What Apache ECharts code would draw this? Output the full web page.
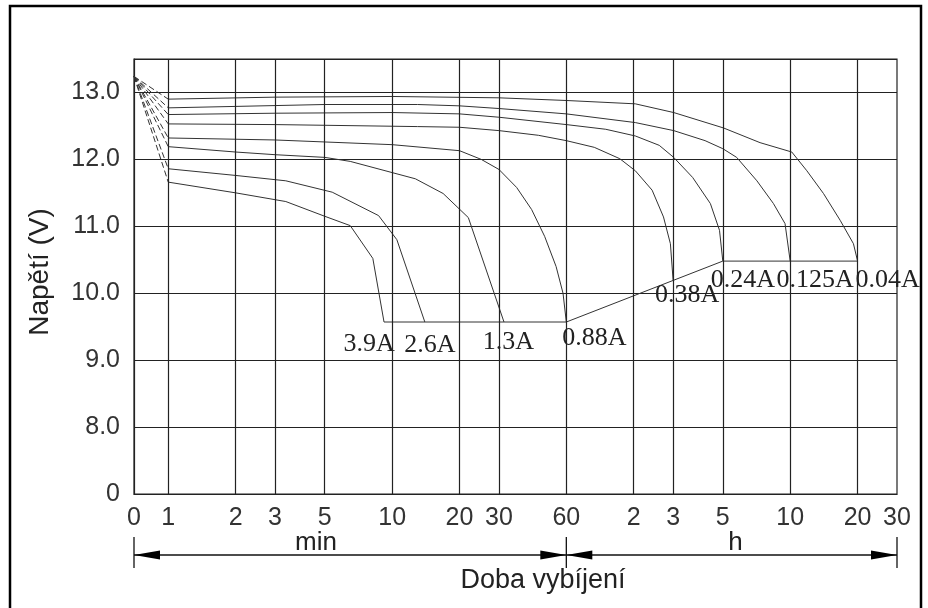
<!DOCTYPE html>
<html><head><meta charset="utf-8">
<script src="https://cdn.jsdelivr.net/npm/echarts@6/dist/echarts.min.js"></script>
<style>html,body{margin:0;padding:0;background:#fff}#c{width:928px;height:608px}</style>
</head><body><div id="c"></div>
<script>
// ---- tick positions / labels ----
const tickTimes = [0.703, 1, 2, 3, 5, 10, 20, 30, 60, 120, 180, 300, 600, 1200, 1800]; // minutes
const tickLabels = ['0', '1', '2', '3', '5', '10', '20', '30', '60', '2', '3', '5', '10', '20', '30'];
const voltTicks = [7, 8, 9, 10, 11, 12, 13];
const voltLabels = ['0', '8.0', '9.0', '10.0', '11.0', '12.0', '13.0'];

// ---- data (time in minutes, voltage in V) ----
const startTime = 0.703;
const startVolt = 13.24;
const currents = ['3.9A', '2.6A', '1.3A', '0.88A', '0.38A', '0.24A', '0.125A', '0.04A'];

const t_3_9A = [1, 2, 3.35, 5, 6.5, 8.2, 9.2];
const v_3_9A = [11.66, 11.50, 11.37, 11.15, 11.01, 10.52, 9.57];
const t_2_6A = [1, 2, 3.35, 5.4, 8.7, 10.5, 14];
const v_2_6A = [11.86, 11.76, 11.68, 11.51, 11.16, 10.80, 9.57];
const t_1_3A = [1, 2, 3, 5, 6.5, 12.7, 16.9, 21.9, 31.6];
const v_1_3A = [12.19, 12.11, 12.07, 12.03, 11.97, 11.71, 11.49, 11.13, 9.57];
const t_0_88A = [1, 3, 10, 20, 25, 30, 36, 42, 48, 54, 58, 60];
const v_0_88A = [12.32, 12.29, 12.22, 12.13, 12.0, 11.85, 11.58, 11.25, 10.85, 10.4, 10.0, 9.57];
const t_0_38A = [1, 3, 13, 20, 30, 45, 60, 80, 104, 122, 145, 163, 175, 180];
const v_0_38A = [12.53, 12.52, 12.49, 12.48, 12.43, 12.36, 12.28, 12.18, 12.01, 11.83, 11.54, 11.14, 10.74, 10.19];
const t_0_24A = [1, 3, 10, 20, 30, 60, 90, 122, 156, 181, 220, 264, 290, 300];
const v_0_24A = [12.67, 12.69, 12.70, 12.68, 12.63, 12.52, 12.45, 12.35, 12.21, 12.03, 11.73, 11.34, 10.94, 10.48];
const t_0_125A = [1, 5, 13, 20, 30, 60, 122, 181, 250, 300, 346, 426, 505, 569, 600];
const v_0_125A = [12.77, 12.82, 12.82, 12.80, 12.76, 12.68, 12.55, 12.43, 12.28, 12.16, 12.03, 11.68, 11.34, 11.04, 10.48];
const t_0_04A = [1, 3, 10, 30, 60, 122, 181, 302, 440, 610, 712, 845, 1003, 1150, 1200];
const v_0_04A = [12.90, 12.93, 12.94, 12.92, 12.88, 12.83, 12.70, 12.47, 12.25, 12.11, 11.83, 11.49, 11.09, 10.74, 10.48];

const cutoffTimes = [9.2, 60, 300, 1200];
const cutoffVolts = [9.57, 9.57, 10.48, 10.48];

const curveTimes = [t_3_9A, t_2_6A, t_1_3A, t_0_88A, t_0_38A, t_0_24A, t_0_125A, t_0_04A];
const curveVolts = [v_3_9A, v_2_6A, v_1_3A, v_0_88A, v_0_38A, v_0_24A, v_0_125A, v_0_04A];

// label offsets (style) relative to each curve end point
const labelOffsets = [[-15, 22], [5, 23], [4.5, 20], [28, 16], [14, 15], [20, 19], [25, 19], [30, 19]];

const chart = echarts.init(document.getElementById('c'), null, {renderer: 'canvas'});

function xLabel(v) {
  let best = 0, bd = Infinity;
  tickTimes.forEach((t, i) => { const d = Math.abs(Math.log(v) - Math.log(t)); if (d < bd) { bd = d; best = i; } });
  return tickLabels[best];
}

const lineColor = '#333';
const gridColor = '#222';
const series = [];
curveTimes.forEach((ts, i) => {
  const vs = curveVolts[i];
  series.push({
    type: 'line', silent: true, symbol: 'none', animation: false,
    data: [[startTime, startVolt], [ts[0], vs[0]]],
    lineStyle: {color: '#333', width: 1, type: [6, 3]}
  });
  series.push({
    type: 'line', silent: true, symbol: 'none', animation: false,
    data: ts.map((t, j) => [t, vs[j]]),
    lineStyle: {color: lineColor, width: 1}
  });
});
series.push({
  type: 'line', silent: true, symbol: 'none', animation: false,
  data: cutoffTimes.map((t, j) => [t, cutoffVolts[j]]),
  lineStyle: {color: lineColor, width: 1},
  markLine: {
    silent: true, animation: false, symbol: ['none', 'none'],
    label: {show: false},
    lineStyle: {color: gridColor, width: 1.2, type: 'solid'},
    data: tickTimes.slice(1, -1).map(t => ({xAxis: t}))
  }
});

chart.setOption({
  animation: false,
  backgroundColor: '#fff',
  grid: {left: 134, top: 59, width: 763, height: 435, show: true, borderColor: gridColor, borderWidth: 1.2},
  xAxis: {
    type: 'log', logBase: 10, min: startTime, max: 1800,
    axisLine: {show: true, lineStyle: {color: gridColor, width: 1.2}},
    axisTick: {show: false},
    splitLine: {show: false},
    axisLabel: {
      customValues: tickTimes, formatter: xLabel,
      color: '#333', fontSize: 25, fontFamily: 'Liberation Sans', margin: 12
    }
  },
  yAxis: {
    type: 'value', min: 7, max: 13.5, interval: 1,
    axisLine: {show: true, lineStyle: {color: gridColor, width: 1.2}},
    axisTick: {show: false},
    splitLine: {show: true, lineStyle: {color: gridColor, width: 1.2}},
    axisLabel: {
      formatter: v => { const i = voltTicks.indexOf(v); return i >= 0 ? voltLabels[i] : ''; },
      color: '#333', fontSize: 25, fontFamily: 'Liberation Sans', margin: 14
    }
  },
  series: series
});

// annotations computed from the axes
const px = t => chart.convertToPixel({xAxisIndex: 0}, t);
const py = v => chart.convertToPixel({yAxisIndex: 0}, v);
const x0 = px(startTime), x60 = px(60), x1 = px(1800);
const yb = py(7);
const ay = yb + 61;
const g = [];
// outer frame
g.push({type: 'polyline', shape: {points: [[10, 700], [10, 6], [921, 6], [921, 700]]}, style: {stroke: '#000', lineWidth: 2.5, fill: null}, silent: true});
// arrows
g.push({type: 'line', shape: {x1: x0, y1: ay, x2: x1, y2: ay}, style: {stroke: '#111', lineWidth: 1.3}});
[x0, x60, x1].forEach(x => g.push({type: 'line', shape: {x1: x, y1: yb + 43, x2: x, y2: yb + 74}, style: {stroke: '#111', lineWidth: 1.3}}));
function head(x, dir) {
  return {type: 'polygon', shape: {points: [[x, ay], [x + dir * 26, ay - 4.5], [x + dir * 26, ay + 4.5]]}, style: {fill: '#000'}};
}
g.push(head(x0, 1), head(x60, -1), head(x60, 1), head(x1, -1));
const sans = 'Liberation Sans';
g.push({type: 'text', x: 316, y: yb + 49, style: {text: 'min', font: '26px ' + sans, fill: '#222', align: 'center', verticalAlign: 'middle'}});
g.push({type: 'text', x: 735.5, y: yb + 49, style: {text: 'h', font: '26px ' + sans, fill: '#222', align: 'center', verticalAlign: 'middle'}});
g.push({type: 'text', x: 543, y: 581, style: {text: 'Doba vybíjení', font: '27px ' + sans, fill: '#222', align: 'center', verticalAlign: 'middle'}});
g.push({type: 'text', x: 40, y: 272, rotation: Math.PI / 2, style: {text: 'Napětí (V)', font: '28px ' + sans, fill: '#222', align: 'center', verticalAlign: 'middle'}});
// curve labels
curveTimes.forEach((ts, i) => {
  const vs = curveVolts[i];
  const ex = px(ts[ts.length - 1]), ey = py(vs[vs.length - 1]);
  g.push({type: 'text', x: ex + labelOffsets[i][0], y: ey + labelOffsets[i][1], z: 100,
    style: {text: currents[i], font: '26px Liberation Serif', fill: '#222', align: 'center', verticalAlign: 'middle'}});
});
chart.setOption({graphic: g});
</script></body></html>
